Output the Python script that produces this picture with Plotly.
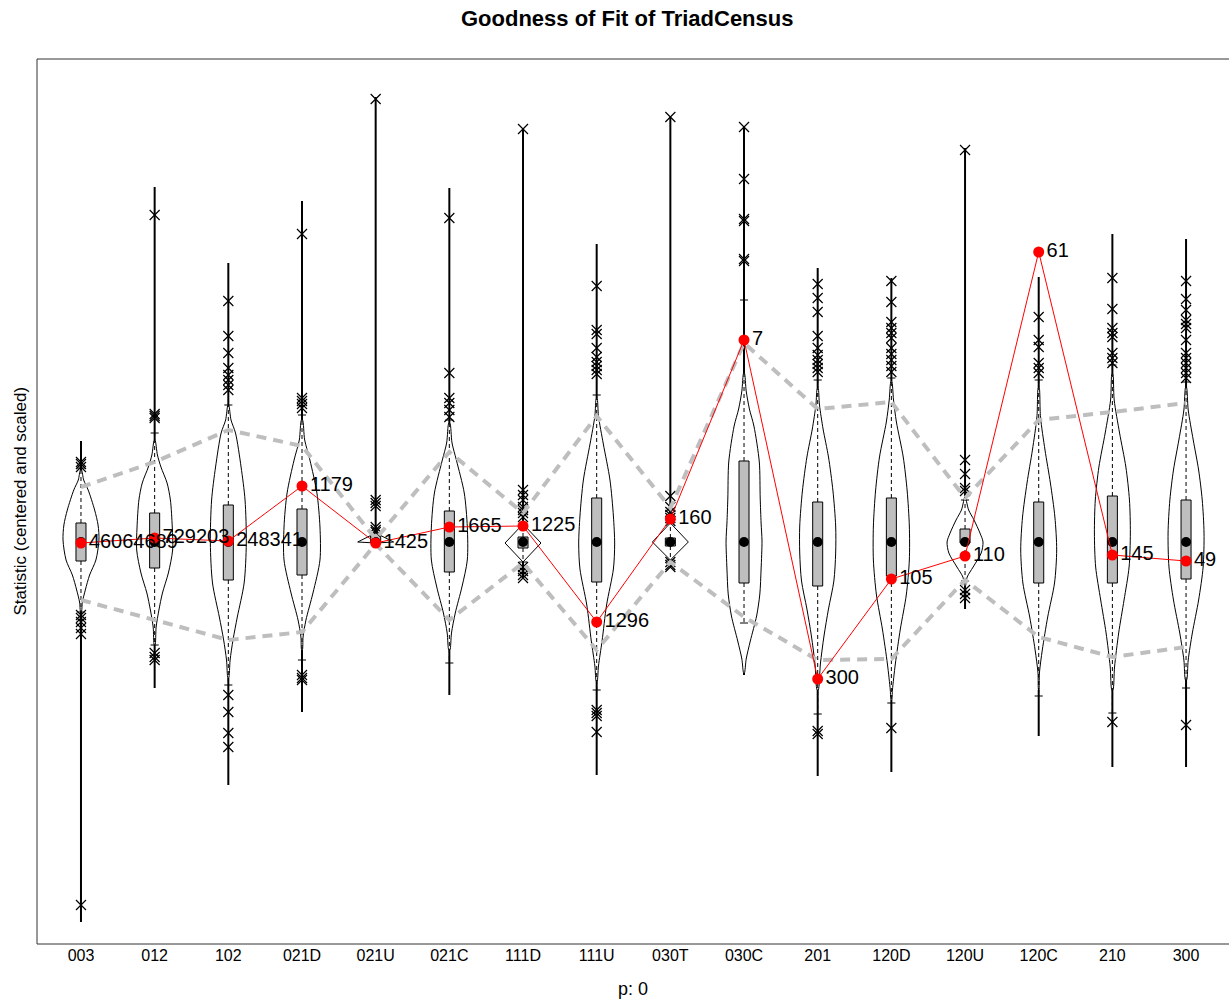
import plotly.graph_objects as go

# ---- data: triad census goodness of fit (centered and scaled statistics) ----
categories = ["003", "012", "102", "021D", "021U", "021C", "111D", "111U",
              "030T", "030C", "201", "120D", "120U", "120C", "210", "300"]

# observed counts (labels) and their scaled values
obs_counts = ["46064689", "729203", "248341", "1179", "1425", "1665", "1225", "1296",
              "160", "7", "300", "105", "110", "61", "145", "49"]
obs_scaled = [-0.01, 0.04, 0.01, 0.56, -0.01, 0.15, 0.16, -0.80,
              0.23, 2.02, -1.37, -0.37, -0.14, 2.90, -0.13, -0.19]

# 5% / 95% simulated bands
band_upper = [0.55, 0.80, 1.12, 0.96, 0.03, 0.90, 0.29, 1.26,
              0.34, 1.99, 1.33, 1.40, 0.44, 1.22, 1.30, 1.39]
band_lower = [-0.58, -0.78, -0.98, -0.90, -0.02, -0.78, -0.21, -1.08,
              -0.20, -0.75, -1.18, -1.17, -0.38, -0.95, -1.15, -1.05]

# simulated distribution summaries
sim_median = [0.0, 0.0, 0.0, 0.0, 0.0, 0.0, 0.0, 0.0,
              0.0, 0.0, 0.0, 0.0, 0.0, 0.0, 0.0, 0.0]
sim_q1 = [-0.19, -0.26, -0.38, -0.33, 0.00, -0.30, -0.06, -0.40,
          -0.04, -0.41, -0.44, -0.34, -0.01, -0.41, -0.41, -0.37]
sim_q3 = [0.19, 0.29, 0.37, 0.33, 0.09, 0.31, 0.05, 0.44,
          0.04, 0.81, 0.40, 0.44, 0.13, 0.40, 0.46, 0.42]
whisker_lo = [-0.70, -1.03, -1.43, -1.18, 0.00, -1.21, -0.20, -1.48,
              -0.18, -0.81, -1.72, -1.61, -0.39, -1.54, -1.71, -1.46]
whisker_hi = [0.74, 1.09, 1.37, 1.27, 0.09, 1.22, 0.17, 1.47,
              0.19, 2.42, 1.62, 1.64, 0.42, 1.62, 1.77, 1.60]
sim_min = [-3.80, -1.46, -2.43, -1.70, -0.01, -1.53, -0.36, -2.33,
           -0.25, -1.33, -2.34, -2.30, -0.67, -1.94, -2.25, -2.25]
sim_max = [1.01, 3.55, 2.79, 3.41, 4.45, 3.54, 4.14, 2.98,
           4.25, 4.15, 2.74, 2.64, 3.94, 2.65, 3.08, 3.03]

# outlying simulated values per category
outliers = [
    [0.80, 0.78, 0.75, -0.73, -0.76, -0.80, -0.86, -0.92, -3.63],
    [3.27, 1.28, 1.26, 1.24, -1.11, -1.15, -1.18],
    [2.41, 2.06, 1.89, 1.74, 1.67, 1.62, 1.57, 1.52, -1.53, -1.70, -1.91, -2.05],
    [3.08, 1.44, 1.41, 1.38, 1.34, -1.33, -1.36, -1.38],
    [4.43, 0.42, 0.39, 0.36, 0.15, 0.12, 0.10],
    [3.24, 1.69, 1.44, 1.39, 1.32, 1.25],
    [4.13, 0.52, 0.47, 0.42, 0.35, 0.32, 0.29, 0.25, -0.25, -0.29, -0.33, -0.36],
    [2.56, 2.12, 2.08, 1.94, 1.85, 1.80, 1.76, 1.72, 1.68, -1.68, -1.71, -1.74, -1.90],
    [4.25, 0.46, 0.35, 0.30, 0.27, 0.24, 0.21, -0.20, -0.23, -0.25],
    [4.15, 3.63, 3.23, 3.21, 2.83, 2.81],
    [2.58, 2.44, 2.30, 2.06, 1.94, 1.87, 1.82, 1.78, 1.74, 1.70, -1.89, -1.92],
    [2.61, 2.40, 2.20, 2.14, 2.09, 2.04, 1.94, 1.88, 1.82, 1.76, 1.70, -1.86],
    [3.92, 0.82, 0.68, 0.54, 0.51, -0.48, -0.52, -0.56],
    [2.25, 2.02, 1.95, 1.79, 1.74, 1.69],
    [2.64, 2.33, 2.14, 2.09, 2.05, 1.89, 1.84, 1.79, -1.80],
    [2.61, 2.43, 2.32, 2.22, 2.18, 2.14, 2.02, 1.89, 1.84, 1.79, 1.74, 1.69, 1.64, -1.83],
]

# kernel density profiles: statistic levels and relative density
density_levels = [
    [0.72, 0.62, 0.52, 0.32, 0.17, 0.02, -0.18, -0.33, -0.48, -0.60, -0.70],
    [1.02, 0.87, 0.75, 0.59, 0.42, 0.15, -0.08, -0.31, -0.51, -0.68, -0.85, -1.03],
    [1.37, 1.22, 1.09, 0.75, 0.42, -0.01, -0.41, -0.75, -0.98, -1.18, -1.36],
    [1.22, 1.02, 0.82, 0.49, 0.15, -0.18, -0.51, -0.78, -0.95, -1.08],
    [0.09, 0.00, -0.01],
    [1.19, 0.99, 0.82, 0.49, 0.15, -0.18, -0.45, -0.71, -0.91, -1.08],
    [0.18, -0.01, -0.20],
    [1.44, 1.26, 0.98, 0.62, 0.26, -0.02, -0.27, -0.63, -0.99, -1.24, -1.40],
    [0.19, 0.00, -0.18],
    [1.69, 1.51, 1.33, 1.16, 0.80, 0.44, 0.19, 0.01, -0.27, -0.52, -0.74, -0.99, -1.17, -1.31],
    [1.54, 1.37, 1.13, 0.85, 0.51, 0.16, -0.11, -0.39, -0.67, -0.94, -1.22, -1.48],
    [1.61, 1.42, 1.20, 0.85, 0.51, 0.16, -0.18, -0.53, -0.87, -1.22, -1.48, -1.58],
    [0.44, 0.32, 0.22, 0.09, 0.00, -0.11, -0.25, -0.35, -0.44],
    [1.55, 1.25, 0.92, 0.59, 0.25, -0.08, -0.41, -0.75, -1.08, -1.31, -1.48],
    [1.69, 1.42, 1.09, 0.75, 0.42, 0.09, -0.25, -0.58, -0.91, -1.25, -1.48],
    [1.55, 1.32, 1.02, 0.72, 0.42, 0.09, -0.25, -0.58, -0.91, -1.18, -1.38],
]
density_widths = [
    [0.03, 0.15, 0.40, 0.76, 0.95, 1.00, 0.83, 0.48, 0.24, 0.08, 0.02],
    [0.02, 0.15, 0.34, 0.67, 0.85, 0.95, 0.97, 0.74, 0.42, 0.23, 0.08, 0.02],
    [0.02, 0.15, 0.40, 0.71, 0.93, 1.00, 0.88, 0.50, 0.26, 0.10, 0.02],
    [0.03, 0.15, 0.44, 0.83, 1.00, 1.00, 0.61, 0.22, 0.06, 0.02],
    [0.00, 1.00, 0.00],
    [0.03, 0.15, 0.39, 0.83, 1.00, 1.00, 0.70, 0.33, 0.12, 0.03],
    [0.00, 1.00, 0.00],
    [0.02, 0.10, 0.37, 0.74, 0.93, 1.00, 0.93, 0.55, 0.30, 0.10, 0.02],
    [0.00, 1.00, 0.00],
    [0.02, 0.12, 0.30, 0.55, 0.85, 0.90, 0.95, 1.00, 0.95, 0.88, 0.70, 0.35, 0.12, 0.02],
    [0.02, 0.10, 0.30, 0.60, 0.85, 1.00, 1.00, 0.90, 0.60, 0.35, 0.15, 0.03],
    [0.02, 0.12, 0.28, 0.66, 0.88, 1.00, 1.00, 0.83, 0.50, 0.22, 0.06, 0.02],
    [0.02, 0.20, 0.50, 0.83, 1.00, 0.90, 0.45, 0.12, 0.02],
    [0.02, 0.10, 0.35, 0.65, 0.90, 1.00, 0.88, 0.50, 0.20, 0.04, 0.01],
    [0.02, 0.10, 0.40, 0.75, 0.95, 1.00, 0.93, 0.65, 0.35, 0.12, 0.03],
    [0.02, 0.12, 0.40, 0.70, 0.90, 1.00, 0.95, 0.70, 0.35, 0.12, 0.03],
]

# ---- drawing parameters ----
VIOLIN_HALF = 0.244   # max half-width of a violin, in category units
BOX_HALF = 0.068
CAP_HALF = 0.055
FONT = "Liberation Sans, Arial, sans-serif"
BAND_GREY = "#BEBEBE"

positions = list(range(1, len(categories) + 1))
fig = go.Figure()

# violins
for pos, lv, wd in zip(positions, density_levels, density_widths):
    peak = max(wd)
    xs = [pos + VIOLIN_HALF * w / peak for w in wd]
    xs += [pos - VIOLIN_HALF * w / peak for w in reversed(wd)]
    ys = list(lv) + list(reversed(lv))
    xs.append(xs[0])
    ys.append(ys[0])
    sharp = len(lv) <= 3
    fig.add_trace(go.Scatter(
        x=xs, y=ys, mode="lines",
        line=dict(color="black", width=1,
                  shape="linear" if sharp else "spline", smoothing=0.8),
        hoverinfo="skip"))

# violin tails reaching the simulated extremes
tx, ty = [], []
for pos, lv, lo, hi in zip(positions, density_levels, sim_min, sim_max):
    if hi > lv[0]:
        tx += [pos, pos, None]
        ty += [lv[0], hi, None]
    if lo < lv[-1]:
        tx += [pos, pos, None]
        ty += [lv[-1], lo, None]
fig.add_trace(go.Scatter(x=tx, y=ty, mode="lines",
                         line=dict(color="black", width=2), hoverinfo="skip"))

# dashed whiskers and end caps
wx, wy, cx, cy = [], [], [], []
for pos, q1, q3, wl, wh in zip(positions, sim_q1, sim_q3, whisker_lo, whisker_hi):
    if wh > q3:
        wx += [pos, pos, None]
        wy += [q3, wh, None]
        cx += [pos - CAP_HALF, pos + CAP_HALF, None]
        cy += [wh, wh, None]
    if wl < q1:
        wx += [pos, pos, None]
        wy += [q1, wl, None]
        cx += [pos - CAP_HALF, pos + CAP_HALF, None]
        cy += [wl, wl, None]
fig.add_trace(go.Scatter(x=wx, y=wy, mode="lines",
                         line=dict(color="black", width=1, dash="4px,3px"),
                         hoverinfo="skip"))
fig.add_trace(go.Scatter(x=cx, y=cy, mode="lines",
                         line=dict(color="black", width=1), hoverinfo="skip"))

# boxes
for pos, q1, q3 in zip(positions, sim_q1, sim_q3):
    fig.add_trace(go.Scatter(
        x=[pos - BOX_HALF, pos + BOX_HALF, pos + BOX_HALF, pos - BOX_HALF, pos - BOX_HALF],
        y=[q1, q1, q3, q3, q1], mode="lines", fill="toself",
        fillcolor="#BEBEBE", line=dict(color="black", width=1), hoverinfo="skip"))

# medians
fig.add_trace(go.Scatter(x=positions, y=sim_median, mode="markers",
                         marker=dict(color="black", size=10), hoverinfo="skip"))

# outliers
ox, oy = [], []
for pos, vals in zip(positions, outliers):
    ox += [pos] * len(vals)
    oy += vals
fig.add_trace(go.Scatter(x=ox, y=oy, mode="markers",
                         marker=dict(symbol="x-thin", size=10,
                                     line=dict(color="black", width=1.2)),
                         hoverinfo="skip"))

# 5% / 95% bands
for band in (band_upper, band_lower):
    fig.add_trace(go.Scatter(x=positions, y=band, mode="lines",
                             line=dict(color=BAND_GREY, width=4, dash="10px,7px"),
                             hoverinfo="skip"))

# observed statistics
fig.add_trace(go.Scatter(
    x=positions, y=obs_scaled, mode="lines+markers+text",
    line=dict(color="red", width=1),
    marker=dict(color="red", size=11),
    text=obs_counts, textposition="middle right",
    textfont=dict(family=FONT, size=20, color="black"),
    hoverinfo="skip"))

# frame (left, top, bottom)
frame = dict(type="line", xref="paper", yref="paper",
             line=dict(color="#333333", width=1))
fig.add_shape(**frame, x0=0, x1=0, y0=0, y1=1)
fig.add_shape(**frame, x0=0, x1=1, y0=1, y1=1)
fig.add_shape(**frame, x0=0, x1=1, y0=0, y1=0)

fig.add_annotation(text="<b>Goodness of Fit of TriadCensus</b>",
                   xref="paper", yref="paper", x=0.495, y=1, yanchor="middle",
                   yshift=41, showarrow=False,
                   font=dict(family=FONT, size=22, color="black"))
fig.add_annotation(text="p: 0", xref="paper", yref="paper", x=0.5, y=0,
                   yanchor="top", yshift=-33, showarrow=False,
                   font=dict(family=FONT, size=18, color="black"))
fig.add_annotation(text="Statistic (centered and scaled)", xref="paper", yref="paper",
                   x=0, y=0.5, xanchor="center", xshift=-17, textangle=-90,
                   showarrow=False, font=dict(family=FONT, size=17, color="black"))

fig.update_layout(
    width=1229, height=1004,
    margin=dict(l=37, r=0, t=59, b=60),
    paper_bgcolor="white", plot_bgcolor="white",
    showlegend=False,
    xaxis=dict(range=[0.403, 16.583], tickvals=positions, ticktext=categories,
               showgrid=False, zeroline=False, showline=False, ticks="",
               tickfont=dict(family=FONT, size=16, color="black")),
    yaxis=dict(range=[-4.02, 4.83], showticklabels=False, showgrid=False,
               zeroline=False, showline=False),
)

fig.write_html("out.html")
